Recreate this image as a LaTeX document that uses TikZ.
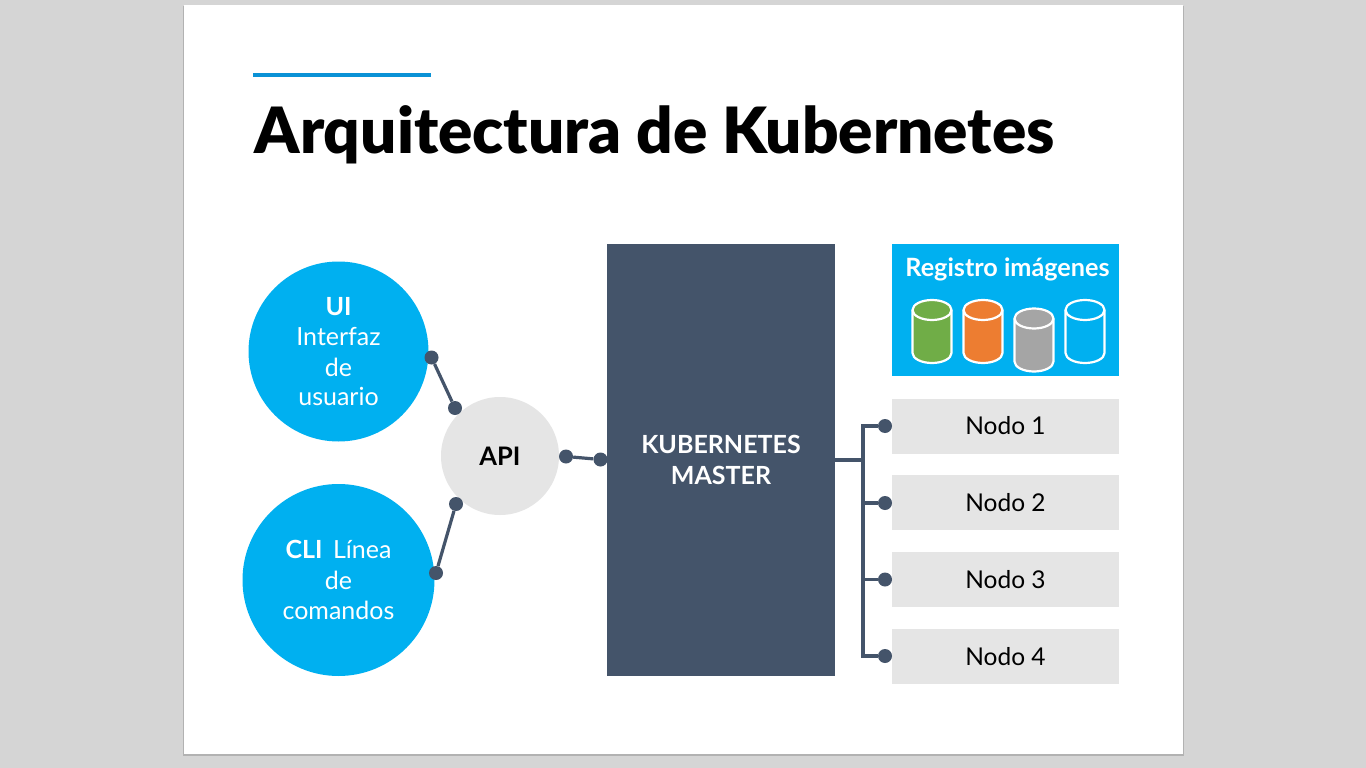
\documentclass[tikz,border=0pt]{standalone}
\usepackage{fontspec}
\setmainfont{Lato}
\newfontfamily\latoblack{Lato Black}
\usetikzlibrary{calc}
\definecolor{bgc}{HTML}{D5D5D5}
\definecolor{cyanc}{HTML}{00B0F0}
\definecolor{navy}{HTML}{44546A}
\definecolor{greyc}{HTML}{E5E5E5}
\definecolor{rulec}{HTML}{0A92D6}
\definecolor{gr}{HTML}{70AD47}
\definecolor{orc}{HTML}{ED7D31}
\definecolor{gyc}{HTML}{A5A5A5}
\newcommand{\lowtext}[1]{\raisebox{-0.8pt}{#1}}
\tikzset{
  x=1pt,y=-1pt,
  bluecirc/.style={circle,fill=cyanc,inner sep=0pt,text=white,font=\fontsize{25}{30.5}\selectfont,align=center},
  nodebox/.style={fill=greyc,minimum width=227.5pt,minimum height=55pt,inner sep=0pt,font=\fontsize{24.5}{28}\selectfont,text=black},
  dot/.style={circle,fill=navy,minimum size=14pt,inner sep=0pt},
  conn/.style={draw=navy,line width=3.2pt},
  cyl/.pic={
    \draw[white,line width=2.2pt,fill=#1] (-19.5,-21.5) -- (-19.5,21.5) arc[start angle=180,end angle=360,x radius=19.5pt,y radius=10pt] -- (19.5,-21.5) arc[start angle=0,end angle=180,x radius=19.5pt,y radius=10pt] -- cycle;
    \draw[white,line width=2.2pt] (-19.5,-21.5) arc[start angle=180,end angle=360,x radius=19.5pt,y radius=10pt];
  }
}
\begin{document}
\begin{tikzpicture}
\useasboundingbox (0,0) rectangle (1366,768);
\fill[bgc] (0,0) rectangle (1366,768);
\fill[black!30] (183,6) rectangle (1184,755.5);
\fill[white] (184,5) rectangle (1183,754);
\fill[rulec] (252.5,73) rectangle (430.5,77);
\node[anchor=base west,inner sep=0pt,font=\latoblack\fontsize{63.8}{70}\selectfont] (title) at (254.5,153) {Arquitectura de Kubernetes};

\node[bluecirc,minimum size=180pt] (ui) at (338.5,351.5) {\lowtext{\textbf{UI}}\\\lowtext{Interfaz}\\\lowtext{de}\\usuario};
\node[bluecirc,minimum size=192pt] (cli) at (338.5,580) {\textbf{CLI}\ \,Línea\\de\\comandos};
\node[circle,fill=greyc,minimum size=118pt,inner sep=0pt,font=\bfseries\fontsize{25.5}{28}\selectfont] (api) at (500,456) {API};
\node[fill=navy,minimum width=228pt,minimum height=432pt,inner sep=0pt,text=white,align=center,font=\bfseries\fontsize{25}{30.5}\selectfont] (master) at (721,460) {KUBERNETES\\MASTER};

\fill[cyanc] (892,244) rectangle (1119,376);
\node[anchor=base,inner sep=0pt,text=white,font=\bfseries\fontsize{25.2}{28}\selectfont] (reg) at (1007.5,276.8) {Registro imágenes};
\pic at (932,331.5) {cyl=gr};
\pic at (983,331.5) {cyl=orc};
\pic at (1034,340) {cyl=gyc};
\pic at (1085,331.5) {cyl=cyanc};

\node[nodebox] (n1) at (1005.5,426) {\lowtext{Nodo 1}};
\node[nodebox] (n2) at (1005.5,502.5) {\lowtext{Nodo 2}};
\node[nodebox] (n3) at (1005.5,579.5) {\lowtext{Nodo 3}};
\node[nodebox] (n4) at (1005.5,656.5) {Nodo 4};

\node[dot] (d1) at (431.5,357.5) {};
\node[dot] (d2) at (455,408) {};
\node[dot] (d3) at (456,504) {};
\node[dot] (d4) at (436,573) {};
\node[dot] (d5) at (566,456.5) {};
\node[dot] (d6) at (600.5,459.5) {};
\node[dot] (e1) at (885,426) {};
\node[dot] (e2) at (885,503) {};
\node[dot] (e3) at (885,579.5) {};
\node[dot] (e4) at (885,656) {};
\coordinate (j) at (863,460);
\coordinate (mr) at (835,460);

\draw[conn] (d1) -- (d2);
\draw[conn] (d3) -- (d4);
\draw[conn] (d5) -- (d6);
\draw[conn] (mr) -- (j);
\draw[conn] (e1) -| (j);
\draw[conn] (e4) -| (j);
\draw[conn] (e2) -- (e2 -| j);
\draw[conn] (e3) -- (e3 -| j);
\end{tikzpicture}
\end{document}
